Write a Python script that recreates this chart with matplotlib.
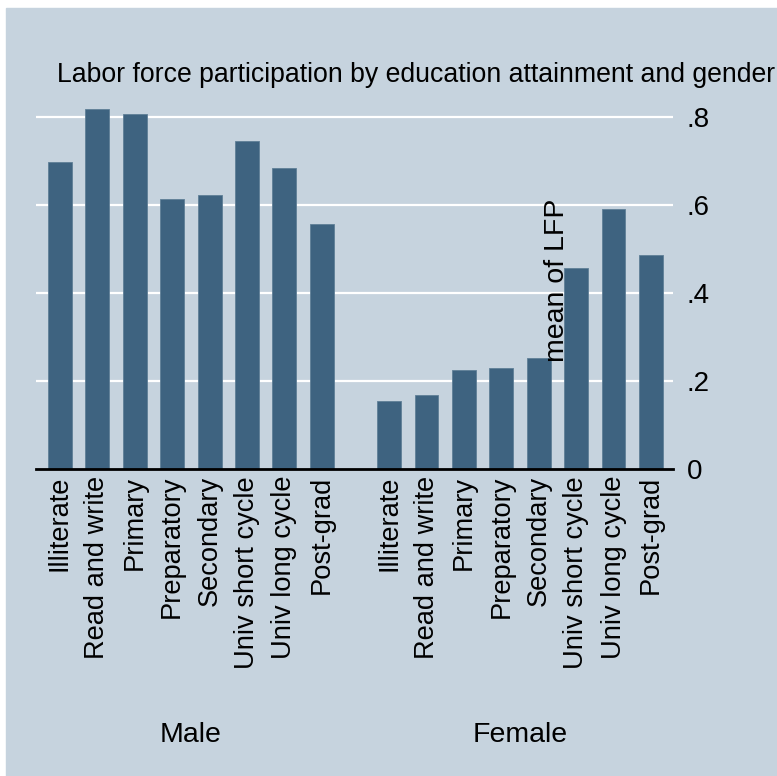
"""
Labor force participation by education attainment and gender
Stata-style bar chart redrawn with matplotlib
"""
import numpy as np
import matplotlib
matplotlib.use("Agg")
import matplotlib.pyplot as plt
from matplotlib.patches import Rectangle
import matplotlib.transforms as mtransforms

plt.rcParams['font.family'] = ['Liberation Sans', 'DejaVu Sans']

# data
education = ["Illiterate", "Read and write", "Primary", "Preparatory",
             "Secondary", "Univ short cycle", "Univ long cycle", "Post-grad"]
genders = ["Male", "Female"]
lfp_male = [0.698, 0.819, 0.806, 0.614, 0.623, 0.745, 0.683, 0.557]
lfp_female = [0.155, 0.168, 0.225, 0.230, 0.252, 0.456, 0.592, 0.486]
y_ticks = [0, 0.2, 0.4, 0.6, 0.8]
y_ticklabels = ["0", ".2", ".4", ".6", ".8"]

W, H = 777, 776
BG = "#C6D3DE"
BAR = "#3E6380"

fig = plt.figure(figsize=(W / 100, H / 100), dpi=100, facecolor="white")
# outer graph region (white strip on top and left only)
fig.patches.append(Rectangle((6 / W, -0.01), 1.01 - 6 / W, 1.01 - 8 / H,
                             transform=fig.transFigure, color=BG, zorder=-1))

ax = fig.add_axes([36 / W, 1 - 469 / H, (673 - 36) / W, (469 - 99.4) / H])
ax.set_facecolor("none")

gap = 8.8
x_male = np.arange(len(education))
x_female = gap + np.arange(len(education))

ax.bar(x_male, lfp_male, width=0.64, color=BAR, edgecolor="#5F7F97",
       linewidth=0.6, zorder=3)
ax.bar(x_female, lfp_female, width=0.64, color=BAR, edgecolor="#5F7F97",
       linewidth=0.6, zorder=3)

ax.set_xlim(-0.64, 16.39)
ax.set_ylim(0, 0.84)

# y axis on the right, white gridlines
ax.yaxis.tick_right()
ax.set_yticks(y_ticks)
ax.set_yticklabels(y_ticklabels, fontsize=20)
ax.tick_params(axis="y", length=0, pad=10)
for t in y_ticks[1:]:
    ax.axhline(t, color="white", linewidth=1.6, zorder=1)

for s in ["top", "right", "left"]:
    ax.spines[s].set_visible(False)
ax.spines["bottom"].set_linewidth(2)
ax.spines["bottom"].set_color("black")
ax.spines["bottom"].set_zorder(4)

ax.set_xticks(np.concatenate([x_male, x_female]))
ax.set_xticklabels(education + education, rotation=90, fontsize=19.6,
                   ha="center", va="top")
ax.tick_params(axis="x", length=0, pad=5)

# group labels
trans = mtransforms.blended_transform_factory(ax.transData, ax.transAxes)
ax.text(x_male.mean(), -0.72, genders[0], transform=trans, fontsize=20.5,
        ha="center", va="center")
ax.text(x_female.mean(), -0.72, genders[1], transform=trans, fontsize=20.5,
        ha="center", va="center")

fig.text(557 / W, 1 - 280 / H, "mean of LFP", rotation=90, fontsize=20.5,
         ha="center", va="center")
fig.text(57 / W, 1 - 75 / H,
         "Labor force participation by education attainment and gender",
         fontsize=19.2, ha="left", va="center")

fig.savefig("out.png", dpi=100, facecolor=fig.get_facecolor())
